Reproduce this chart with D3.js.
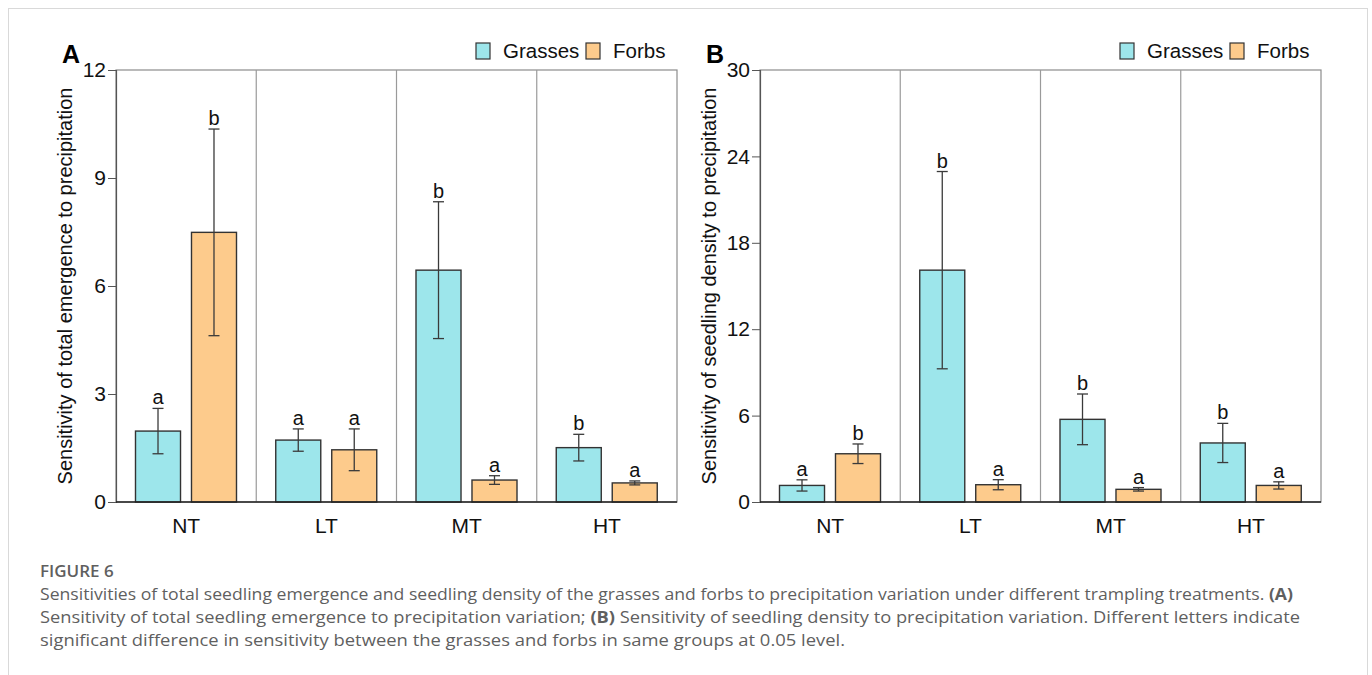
<!DOCTYPE html>
<html>
<head>
<meta charset="utf-8">
<script src="https://cdn.jsdelivr.net/npm/d3@7"></script>
<style>
  body { margin: 0; background: #fff; }
  svg text { font-family: "Liberation Sans", Arial, sans-serif; }
  .caption text { font-family: "Open Sans", "Noto Sans", sans-serif; }
</style>
</head>
<body>
<svg id="fig" width="1372" height="675"></svg>
<script>
var groups = ["NT", "LT", "MT", "HT"];
var series = ["Grasses", "Forbs"];
var colors = ["#9de6eb", "#fdcb8c"];

// panel A: sensitivity of total emergence
var emergGrass = [1.97, 1.72, 6.44, 1.51];
var emergGrassSE = [0.63, 0.31, 1.90, 0.37];
var emergForb = [7.49, 1.45, 0.61, 0.53];
var emergForbSE = [2.87, 0.58, 0.12, 0.055];
var emergGrassLetters = ["a", "a", "b", "b"];
var emergForbLetters = ["b", "a", "a", "a"];
var emergTicks = [0, 3, 6, 9, 12];

// panel B: sensitivity of seedling density
var densGrass = [1.15, 16.1, 5.74, 4.1];
var densGrassSE = [0.39, 6.85, 1.76, 1.36];
var densForb = [3.35, 1.2, 0.88, 1.15];
var densForbSE = [0.68, 0.35, 0.12, 0.25];
var densGrassLetters = ["a", "b", "b", "b"];
var densForbLetters = ["b", "a", "a", "a"];
var densTicks = [0, 6, 12, 18, 24, 30];

var svg = d3.select("#fig");

// outer frame of the figure box
svg.append("rect")
    .attr("x", 8.5).attr("y", 8.5)
    .attr("width", 1359).attr("height", 700)
    .attr("fill", "none").attr("stroke", "#d9d9d9");

var W = 561, H = 432;

function drawPanel(left, top, letter, title, grass, grassSE, forb, forbSE, gl, fl, ticks) {
  var g = svg.append("g").attr("transform", "translate(" + left + "," + top + ")");

  var x = d3.scaleBand().domain(groups).range([0, W]);
  var xi = d3.scaleBand().domain(series).range([19.5, 120.5]).paddingInner(0.196);
  var y = d3.scaleLinear().domain([0, ticks[ticks.length - 1]]).range([H, 0]);

  var rows = [];
  groups.forEach(function(grp, i) {
    rows.push({grp: grp, s: "Grasses", v: grass[i], e: grassSE[i], l: gl[i], c: colors[0]});
    rows.push({grp: grp, s: "Forbs", v: forb[i], e: forbSE[i], l: fl[i], c: colors[1]});
  });

  // frame + group separators
  g.append("rect").attr("width", W).attr("height", H)
      .attr("fill", "none").attr("stroke", "#8c8c8c").attr("stroke-width", 1.2);
  g.selectAll(".sep").data(groups.slice(1)).enter().append("line")
      .attr("x1", function(d) { return x(d); }).attr("x2", function(d) { return x(d); })
      .attr("y1", 0).attr("y2", H)
      .attr("stroke", "#9a9a9a").attr("stroke-width", 1.2);

  g.selectAll(".bar").data(rows).enter().append("rect")
      .attr("x", function(d) { return x(d.grp) + xi(d.s); })
      .attr("width", xi.bandwidth())
      .attr("y", function(d) { return y(d.v); })
      .attr("height", function(d) { return H - y(d.v); })
      .attr("fill", function(d) { return d.c; })
      .attr("stroke", "#333").attr("stroke-width", 1.4);

  var eb = g.selectAll(".err").data(rows).enter().append("g")
      .attr("transform", function(d) { return "translate(" + (x(d.grp) + xi(d.s) + xi.bandwidth() / 2) + ",0)"; })
      .attr("stroke", "#3a3a3a").attr("stroke-width", 1.3);
  eb.append("line").attr("y1", function(d) { return y(d.v + d.e); }).attr("y2", function(d) { return y(d.v - d.e); });
  eb.append("line").attr("x1", -5.5).attr("x2", 5.5)
      .attr("y1", function(d) { return y(d.v + d.e); }).attr("y2", function(d) { return y(d.v + d.e); });
  eb.append("line").attr("x1", -5.5).attr("x2", 5.5)
      .attr("y1", function(d) { return y(d.v - d.e); }).attr("y2", function(d) { return y(d.v - d.e); });

  g.selectAll(".lett").data(rows).enter().append("text")
      .attr("x", function(d) { return x(d.grp) + xi(d.s) + xi.bandwidth() / 2; })
      .attr("y", function(d) { return y(d.v + d.e) - 4; })
      .attr("text-anchor", "middle")
      .attr("font-size", 20).attr("fill", "#111")
      .text(function(d) { return d.l; });

  // axes
  var ya = g.append("g").call(d3.axisLeft(y).tickValues(ticks).tickSize(8).tickPadding(2));
  ya.select(".domain").attr("stroke", "#555").attr("stroke-width", 1.2);
  ya.selectAll(".tick line").attr("stroke", "#555");
  ya.selectAll(".tick text").attr("font-size", 21).attr("fill", "#111")
      .attr("font-family", "'Liberation Sans', Arial, sans-serif");

  g.append("line").attr("x1", 0).attr("x2", W).attr("y1", H).attr("y2", H)
      .attr("stroke", "#222").attr("stroke-width", 1.5);

  g.selectAll(".xl").data(groups).enter().append("text")
      .attr("x", function(d) { return x(d) + x.bandwidth() / 2; })
      .attr("y", H + 31)
      .attr("text-anchor", "middle").attr("font-size", 21).attr("fill", "#111")
      .text(function(d) { return d; });

  g.append("text")
      .attr("transform", "translate(-44," + (H / 2) + ") rotate(-90)")
      .attr("text-anchor", "middle").attr("font-size", 20).attr("fill", "#111")
      .text(title);

  g.append("text").attr("x", -54).attr("y", -7)
      .attr("font-size", 25).attr("font-weight", "bold").attr("fill", "#000")
      .text(letter);

  // legend
  var lg = g.selectAll(".leg").data(series).enter().append("g")
      .attr("transform", function(d, i) { return "translate(" + (360 + i * 110) + ",-27)"; });
  lg.append("rect").attr("width", 14).attr("height", 16).attr("y", 0)
      .attr("fill", function(d, i) { return colors[i]; })
      .attr("stroke", "#333").attr("stroke-width", 1.2);
  lg.append("text").attr("x", 27).attr("y", 15)
      .attr("font-size", 20.5).attr("fill", "#111")
      .text(function(d) { return d; });
}

drawPanel(116, 70, "A", "Sensitivity of total emergence to precipitation",
  emergGrass, emergGrassSE, emergForb, emergForbSE, emergGrassLetters, emergForbLetters, emergTicks);
drawPanel(760, 70, "B", "Sensitivity of seedling density to precipitation",
  densGrass, densGrassSE, densForb, densForbSE, densGrassLetters, densForbLetters, densTicks);

// caption
var cap = svg.append("g").attr("class", "caption").attr("fill", "#5f5f5f");
cap.append("text").attr("x", 40).attr("y", 577).attr("font-size", 17)
    .attr("font-weight", 600).text("FIGURE 6");
var l1 = cap.append("text").attr("x", 40).attr("y", 600).attr("font-size", 16.5)
    .attr("textLength", 1253).attr("lengthAdjust", "spacingAndGlyphs");
l1.append("tspan").text("Sensitivities of total seedling emergence and seedling density of the grasses and forbs to precipitation variation under different trampling treatments. ");
l1.append("tspan").attr("font-weight", "bold").text("(A)");
var l2 = cap.append("text").attr("x", 40).attr("y", 623).attr("font-size", 16.5)
    .attr("textLength", 1260).attr("lengthAdjust", "spacingAndGlyphs");
l2.append("tspan").text("Sensitivity of total seedling emergence to precipitation variation; ");
l2.append("tspan").attr("font-weight", "bold").text("(B)");
l2.append("tspan").text(" Sensitivity of seedling density to precipitation variation. Different letters indicate");
cap.append("text").attr("x", 40).attr("y", 646).attr("font-size", 16.5)
    .attr("textLength", 805).attr("lengthAdjust", "spacingAndGlyphs")
    .text("significant difference in sensitivity between the grasses and forbs in same groups at 0.05 level.");
</script>
</body>
</html>
